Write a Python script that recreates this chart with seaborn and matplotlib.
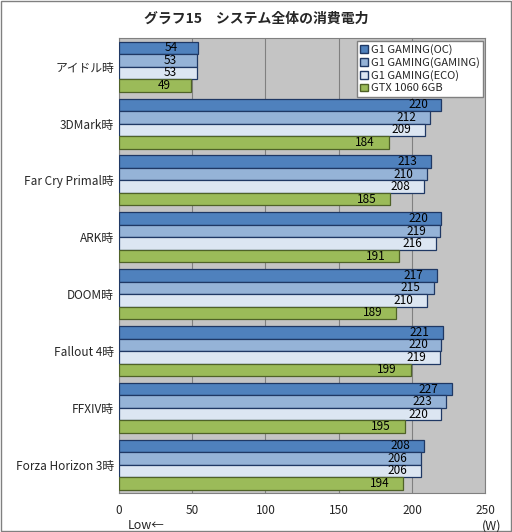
import pandas as pd
import numpy as np
import seaborn as sns
import matplotlib.pyplot as plt

categories = ["アイドル時", "3DMark時", "Far Cry Primal時", "ARK時", "DOOM時",
              "Fallout 4時", "FFXIV時", "Forza Horizon 3時"]
series = ["G1 GAMING(OC)", "G1 GAMING(GAMING)", "G1 GAMING(ECO)", "GTX 1060 6GB"]
oc = [54, 220, 213, 220, 217, 221, 227, 208]
gaming = [53, 212, 210, 219, 215, 220, 223, 206]
eco = [53, 209, 208, 216, 210, 219, 220, 206]
gtx = [49, 184, 185, 191, 189, 199, 195, 194]

colors = ["#4f81bd", "#95b3d7", "#dce6f2", "#9bbb59"]
edges = ["#1f3864", "#1f3864", "#1f3864", "#4f6228"]

rows = []
for s, vals in zip(series, [oc, gaming, eco, gtx]):
    for c, v in zip(categories, vals):
        rows.append({"cat": c, "series": s, "val": v})
df = pd.DataFrame(rows)

sns.set_style("white")
plt.rcParams['font.family'] = ['Noto Sans CJK JP', 'DejaVu Sans']

fig = plt.figure(figsize=(5.12, 5.32), dpi=100)
ax = fig.add_axes([0.232, 0.073, 0.716, 0.855])
ax.set_facecolor("#c4c4c4")
sns.barplot(data=df, x="val", y="cat", hue="series", orient="h",
            palette=colors, saturation=1, width=0.88, ax=ax, legend=True, zorder=3)

for cont, ec in zip(ax.containers, edges):
    for bar in cont:
        bar.set_edgecolor(ec)
        bar.set_linewidth(0.9)
    ax.bar_label(cont, padding=-24, fontsize=8.5, color="black")

ax.set_xlim(0, 250)
ax.set_xticks([0, 50, 100, 150, 200, 250])
ax.grid(axis="x", color="#808080", linewidth=0.8, zorder=0)
ax.set_axisbelow(True)
ax.tick_params(axis="both", labelsize=8.5, length=0)
ax.tick_params(axis="x", length=4, direction="out")
ax.set_xlabel("")
ax.set_ylabel("")
for sp in ax.spines.values():
    sp.set_color("#808080")

leg = ax.legend(loc="upper right", fontsize=8, frameon=True, fancybox=False,
                handlelength=0.7, handleheight=0.7, handletextpad=0.3,
                borderpad=0.3, labelspacing=0.2, borderaxespad=0.2)
leg.get_frame().set_edgecolor("#808080")
leg.get_frame().set_facecolor("white")
leg.get_frame().set_alpha(1)
for h, ec in zip(leg.legend_handles, edges):
    h.set_edgecolor(ec)

fig.text(0.5, 0.965, "グラフ15　システム全体の消費電力", ha="center", va="center",
         fontsize=10, fontweight="bold")
fig.text(0.25, 0.012, "Low←", ha="left", va="center", fontsize=9)
fig.text(0.98, 0.012, "(W)", ha="right", va="center", fontsize=9)
fig.patches.append(plt.Rectangle((0.002, 0.002), 0.996, 0.996, transform=fig.transFigure,
                                 fill=False, edgecolor="#808080", linewidth=1))

plt.savefig("out.png", dpi=100)
plt.close()
